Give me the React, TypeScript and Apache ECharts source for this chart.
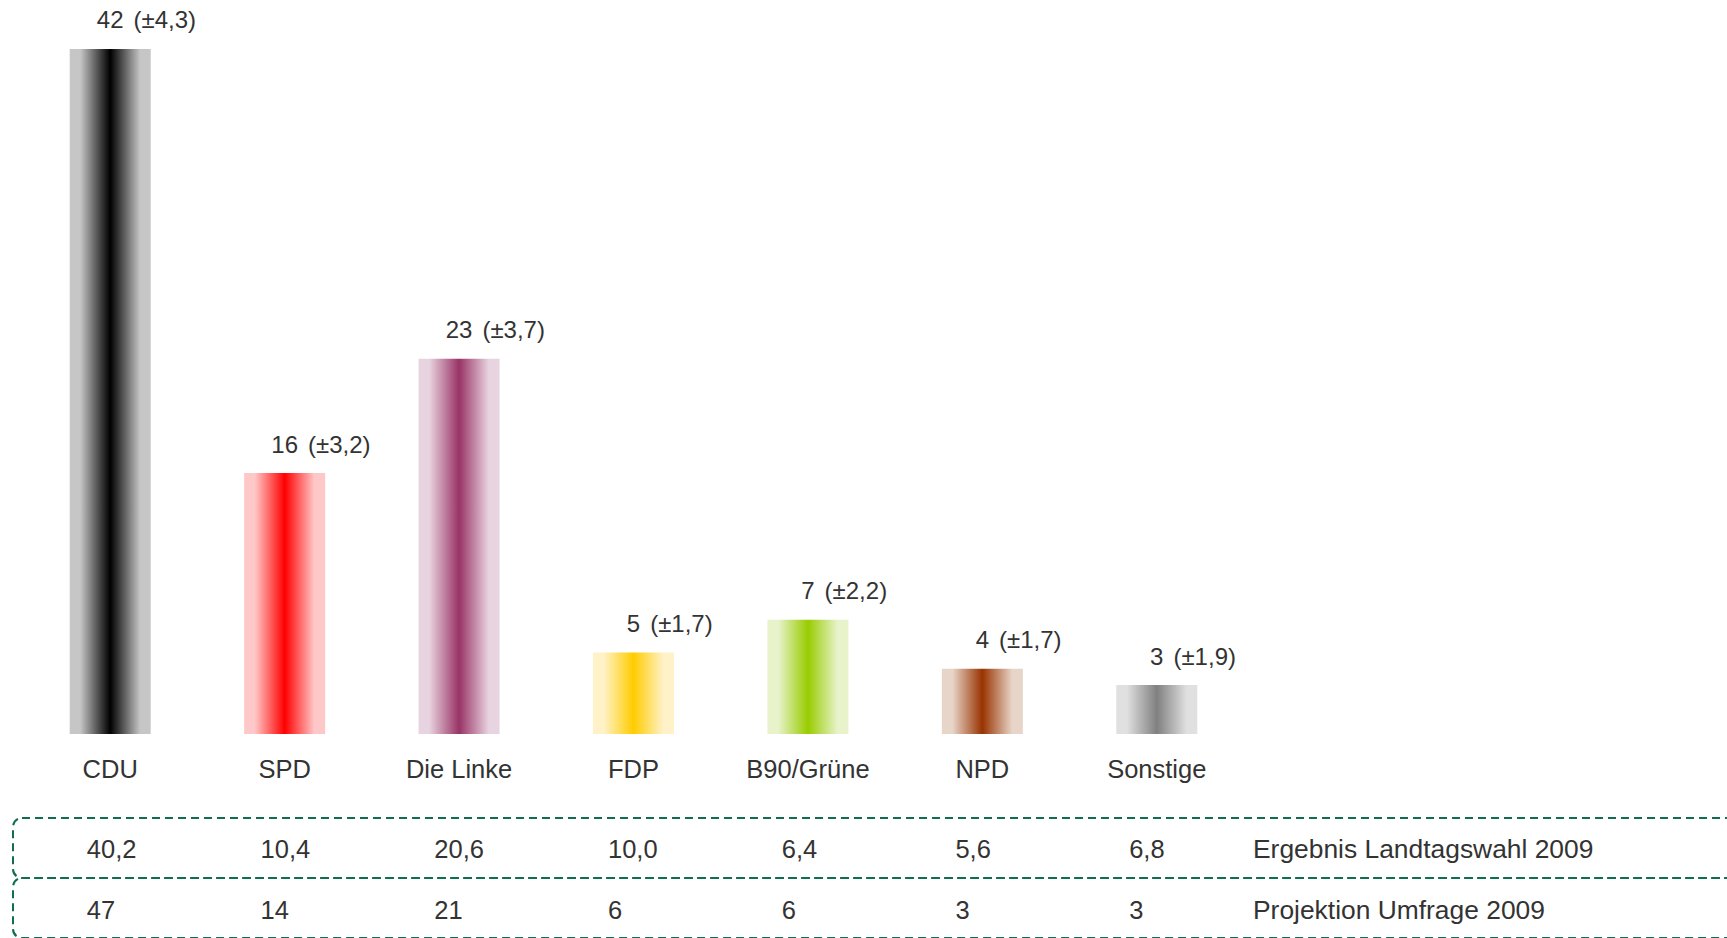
import React, { useEffect, useRef } from "react";
import * as echarts from "echarts";

const categories = ["CDU", "SPD", "Die Linke", "FDP", "B90/Grüne", "NPD", "Sonstige"];
const projection = [42, 16, 23, 5, 7, 4, 3];
const errorMargins = [4.3, 3.2, 3.7, 1.7, 2.2, 1.7, 1.9];
const electionResult2009 = [40.2, 10.4, 20.6, 10.0, 6.4, 5.6, 6.8];
const surveyProjection2009 = [47, 14, 21, 6, 6, 3, 3];
const rowLabels = ["Ergebnis Landtagswahl 2009", "Projektion Umfrage 2009"];
const barCenterColors = ["#000000", "#ff0000", "#993366", "#ffcc00", "#99cc00", "#993300", "#808080"];
const barEdgeColors = ["#c6c6c6", "#ffc8c8", "#e8d4e0", "#fff2c8", "#e8f3cc", "#e8d5c9", "#e0e0e0"];

const FONT = "'Liberation Sans', Arial, sans-serif";
const TEXT = "#333333";
const fmt1 = (v: number) => v.toFixed(1).replace(".", ",");

export default function App() {
  const ref = useRef<HTMLDivElement>(null);
  useEffect(() => {
    if (!ref.current) return;
    const chart = echarts.init(ref.current, undefined, { renderer: "svg" });
    const ctx = document.createElement("canvas").getContext("2d")!;
    ctx.font = `24px ${FONT}`;

    const barData = projection.map((v, i) => {
      const w = ctx.measureText(String(v)).width;
      return {
        value: v,
        itemStyle: {
          color: new echarts.graphic.LinearGradient(0, 0, 1, 0, [
            { offset: 0, color: barEdgeColors[i] },
            { offset: 0.13, color: barEdgeColors[i] },
            { offset: 0.5, color: barCenterColors[i] },
            { offset: 0.87, color: barEdgeColors[i] },
            { offset: 1, color: barEdgeColors[i] },
          ]),
        },
        label: { offset: [-w / 2, 0] },
      };
    });

    const gridLeft = 23;
    const gridWidth = 1221;
    const tableShift = 28;

    const tableAxis = (offset: number, values: string[]) => ({
      type: "category",
      gridIndex: 1,
      position: "bottom",
      offset,
      data: categories,
      axisLine: { show: false },
      axisTick: { show: false },
      axisLabel: {
        margin: 0,
        align: "left",
        fontSize: 25.5,
        lineHeight: 26,
        color: TEXT,
        fontFamily: FONT,
        formatter: (_v: string, i: number) => values[i],
      },
    });

    chart.setOption({
      animation: false,
      grid: [
        { left: gridLeft, width: gridWidth, top: 0, height: 734 },
        { left: gridLeft - tableShift, width: gridWidth, top: 800, height: 36 },
      ],
      xAxis: [
        {
          type: "category",
          gridIndex: 0,
          position: "bottom",
          data: categories,
          axisLine: { show: false },
          axisTick: { show: false },
          axisLabel: { margin: 22, fontSize: 25.5, lineHeight: 26, color: TEXT, fontFamily: FONT },
        },
        tableAxis(0, electionResult2009.map(fmt1)),
        tableAxis(61, surveyProjection2009.map(String)),
      ],
      yAxis: [
        { type: "value", gridIndex: 0, min: 0, max: 45, show: false },
        { type: "value", gridIndex: 1, show: false },
      ],
      series: [
        {
          type: "bar",
          xAxisIndex: 0,
          yAxisIndex: 0,
          barWidth: 81,
          data: barData,
          label: {
            show: true,
            position: "top",
            distance: 17,
            align: "left",
            formatter: (p: any) => `{v|${p.value}}{e|(±${fmt1(errorMargins[p.dataIndex])})}`,
            rich: {
              v: { fontSize: 24, lineHeight: 24, color: TEXT, fontFamily: FONT },
              e: { fontSize: 24, lineHeight: 24, color: TEXT, fontFamily: FONT, padding: [0, 0, 0, 10] },
            },
          },
        },
      ],
      graphic: [
        {
          type: "rect",
          shape: { x: 13, y: 818, width: 1800, height: 60, r: 9 },
          style: { fill: "none", stroke: "#0f6e52", lineWidth: 2, lineDash: [8, 5] },
        },
        {
          type: "rect",
          shape: { x: 13, y: 878, width: 1800, height: 60, r: 9 },
          style: { fill: "none", stroke: "#0f6e52", lineWidth: 2, lineDash: [8, 5] },
        },
        {
          type: "text",
          x: 1253,
          y: 849,
          style: { text: rowLabels[0], fontSize: 26.4, fill: TEXT, fontFamily: FONT, verticalAlign: "middle" },
        },
        {
          type: "text",
          x: 1253,
          y: 910,
          style: { text: rowLabels[1], fontSize: 26.4, fill: TEXT, fontFamily: FONT, verticalAlign: "middle" },
        },
      ],
    });
    return () => chart.dispose();
  }, []);
  return (
    <div
      ref={ref}
      style={{ position: "absolute", left: 0, top: 0, width: 1727, height: 938, background: "#fff" }}
    />
  );
}
